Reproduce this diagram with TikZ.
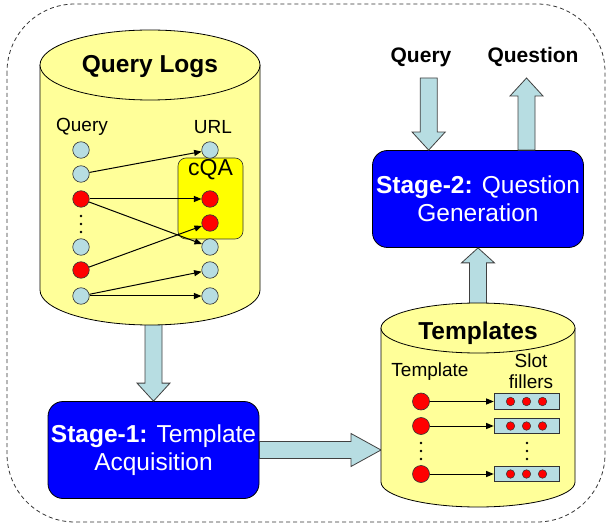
\documentclass[tikz,border=0pt]{standalone}
\usepackage{fontspec}
\setmainfont{Liberation Sans}
\usepackage{tikz}
\usetikzlibrary{positioning,calc}
\usetikzlibrary{arrows.meta}
\definecolor{LogYellow}{RGB}{255,255,153}
\definecolor{CqaYellow}{RGB}{255,255,0}
\definecolor{StageBlue}{RGB}{0,0,255}
\definecolor{PaleBlue}{RGB}{183,221,226}
\definecolor{HitRed}{RGB}{255,0,0}
\tikzset{
  frame/.style={draw=black!80,dash pattern=on 4pt off 3pt,line width=0.8pt},
  db/.style={draw=black,fill=LogYellow,line width=0.8pt},
  fat/.style={draw=black!75,fill=PaleBlue,line width=0.8pt},
  stagebox/.style={draw=black,fill=StageBlue,rounded corners=15pt,line width=0.8pt,
    minimum width=211pt,minimum height=97pt,text=white,align=center,inner sep=0pt,
    font=\fontsize{24.5}{28}\selectfont},
  head/.style={font=\fontsize{24.5}{28}\selectfont\bfseries},
  lab/.style={font=\fontsize{19}{21}\selectfont,inner sep=0pt},
}
\tikzset{v/.style={circle,draw=black!80,fill=PaleBlue,inner sep=0pt,minimum size=16.5pt,line width=0.6pt},
  hit/.style={v,fill=HitRed},
  slotbox/.style={draw=black!80,fill=PaleBlue,minimum width=65pt,minimum height=15.5pt,inner sep=0pt,line width=0.6pt},
  slotdot/.style={circle,draw=black!80,fill=HitRed,inner sep=0pt,minimum size=8.5pt,line width=0.5pt},
  dot/.style={circle,fill=black,inner sep=0pt,minimum size=2.6pt},
  link/.style={draw=black,line width=1pt,-{Triangle[length=7.5pt,width=6pt]}}}
% database drum: centre x, top y, bottom y, x radius, y radius
\newcommand\database[5]{%
  \draw[db] (#1-#4,#2) -- (#1-#4,#3) arc[start angle=180,end angle=0,x radius=#4,y radius=#5] -- (#1+#4,#2);
  \draw[db] (#1,#2) ellipse[x radius=#4,y radius=#5];}
% broad arrow from #2 to #3, #1 = head length
\newcommand\fatarrow[3][18pt]{%
  \coordinate (fa) at ($(#3)!#1!(#2)$);
  \draw[fat] ($(#2)!8.5pt!90:(#3)$) -- ($(fa)!8.5pt!90:(#3)$) -- ($(fa)!16.5pt!90:(#3)$) -- (#3)
    -- ($(fa)!16.5pt!-90:(#3)$) -- ($(fa)!8.5pt!-90:(#3)$) -- ($(#2)!8.5pt!-90:(#3)$) -- cycle;}

\begin{document}
\begin{tikzpicture}[x=1pt,y=-1pt]
\useasboundingbox (0,0) rectangle (607,526);
\draw[frame,rounded corners=68pt] (7,4) rectangle (605,522);

% the two stages
\node[stagebox] (stage1) at (153.5,450) {\textbf{Stage-1:} Template\\Acquisition};
\node[stagebox] (stage2) at (478,199) {\textbf{Stage-2:} Question\\Generation};

\coordinate (logs-out) at (153.5,300);
\coordinate (tpl-in) at (381,450);
\coordinate (tpl-out) at (478,330);
\coordinate (s2-in) at ($(stage2.north west)!0.267!(stage2.north east)$);
\coordinate (s2-out) at ($(stage2.north west)!0.729!(stage2.north east)$);
\coordinate (query-top) at (s2-in |- 0,78);
\coordinate (question-top) at (s2-out |- 0,78);

\fatarrow{logs-out}{stage1.north}
\fatarrow[30pt]{stage1.east}{tpl-in}
\fatarrow[15pt]{tpl-out}{stage2.south}
\fatarrow{query-top}{s2-in}
\fatarrow{s2-out}{question-top}
\node[head,font=\fontsize{21}{25}\selectfont\bfseries] (query) at (421,57) {Query};
\node[head,font=\fontsize{21}{25}\selectfont\bfseries] (question) at (533,57) {Question};

% query logs
\database{150}{65}{290}{110}{35}
\node[head] (logs) at (150,67) {Query Logs};
\node[lab] (qhead) at (82,127) {Query};
\node[lab] (uhead) at (213,127) {URL};
\node[draw=black!80,fill=CqaYellow,rounded corners=8pt,minimum width=65pt,minimum height=81pt,line width=0.6pt] (cqa) at (210.5,198.5) {};
\node[lab,font=\fontsize{23}{26}\selectfont,below=2pt of cqa.north] (cqalab) {cQA};
\foreach \n/\y/\s in {1/150/v,2/174/v,3/199/hit,4/247/v,5/270/hit,6/296/v}
  \node[\s] (q\n) at (81,\y) {};
\foreach \n/\y/\s in {1/150/v,2/199/hit,3/223/hit,4/247/v,5/270/v,6/296/v}
  \node[\s] (u\n) at (210,\y) {};
\foreach \y in {216,224,232}
  \node[dot] (qd\y) at (81,\y) {};
\draw[link] (q2) -- (u1);
\draw[link] (q3) -- (u2);
\draw[link] (q3) -- (u4);
\draw[link] (q5) -- (u3);
\draw[link] (q6) -- (u5);
\draw[link] (q6) -- (u6);

% templates
\database{478}{328}{482}{97}{25}
\node[head] (tpl) at (478,333) {Templates};
\node[lab] (thead) at (430,372) {Template};
\node[lab,align=center] (shead) at (531,371) {Slot\\fillers};
\foreach \i/\y in {1/401.5,2/426,3/474} {
  \node[hit,minimum size=17pt] (t\i) at (421,\y) {};
  \node[slotbox] (s\i) at (526.5,\y) {};
  \foreach \k/\dx in {1/-16,2/0,3/16}
    \node[slotdot] (s\i-\k) at ($(s\i.center)+(\dx,0)$) {};
  \draw[link] (t\i) -- (s\i);
}
\foreach \y in {443,451,459} {
  \node[dot] (td\y) at (421,\y) {};
  \node[dot] (sd\y) at (527,\y) {};
}
\end{tikzpicture}
\end{document}
